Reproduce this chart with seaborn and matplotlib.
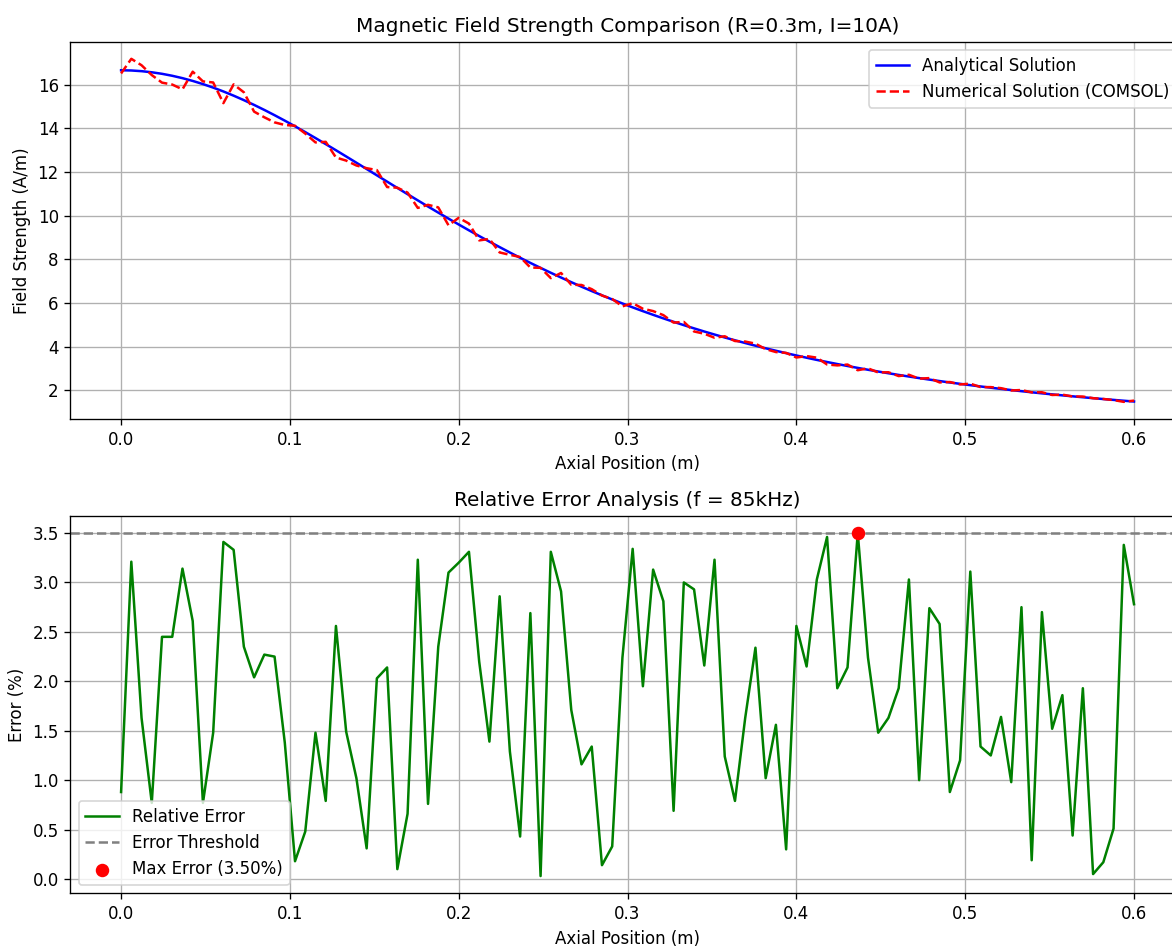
import numpy as np
import matplotlib
matplotlib.use('Agg')
import matplotlib.pyplot as plt
import seaborn as sns

# Axial positions (m), 100 samples along the axis
axial_pos = np.linspace(0, 0.6, 100)

# Analytical field strength (A/m)
analytical = [16.667, 16.657, 16.626, 16.575, 16.505, 16.415, 16.306, 16.179, 16.034, 15.873,
              15.696, 15.504, 15.298, 15.080, 14.850, 14.609, 14.359, 14.100, 13.834, 13.562,
              13.284, 13.003, 12.718, 12.431, 12.143, 11.854, 11.565, 11.276, 10.990, 10.706,
              10.424, 10.146, 9.871, 9.601, 9.334, 9.073, 8.816, 8.565, 8.318, 8.077,
              7.842, 7.613, 7.389, 7.171, 6.959, 6.752, 6.551, 6.356, 6.167, 5.983,
              5.804, 5.631, 5.463, 5.300, 5.142, 4.990, 4.842, 4.698, 4.560, 4.425,
              4.296, 4.170, 4.048, 3.930, 3.817, 3.707, 3.600, 3.497, 3.397, 3.301,
              3.208, 3.118, 3.031, 2.946, 2.865, 2.786, 2.709, 2.636, 2.564, 2.495,
              2.428, 2.363, 2.301, 2.240, 2.181, 2.124, 2.069, 2.016, 1.964, 1.914,
              1.865, 1.818, 1.773, 1.729, 1.686, 1.644, 1.604, 1.565, 1.527, 1.491]

# Relative error (%)
rel_error = [0.88, 3.21, 1.63, 0.77, 2.45, 2.45, 3.14, 2.61, 0.77, 1.48,
             3.41, 3.33, 2.35, 2.04, 2.27, 2.25, 1.38, 0.18, 0.48, 1.48,
             0.79, 2.56, 1.49, 1.02, 0.31, 2.03, 2.14, 0.10, 0.66, 3.23,
             0.76, 2.35, 3.10, 3.20, 3.31, 2.20, 1.39, 2.86, 1.29, 0.43,
             2.69, 0.03, 3.31, 2.91, 1.71, 1.16, 1.34, 0.14, 0.33, 2.24,
             3.34, 1.95, 3.13, 2.81, 0.69, 3.00, 2.93, 2.16, 3.23, 1.24,
             0.79, 1.63, 2.34, 1.02, 1.56, 0.30, 2.56, 2.15, 3.03, 3.46,
             1.93, 2.14, 3.50, 2.24, 1.48, 1.63, 1.93, 3.03, 1.00, 2.74,
             2.58, 0.88, 1.20, 3.11, 1.34, 1.25, 1.64, 0.98, 2.75, 0.19,
             2.70, 1.52, 1.86, 0.44, 1.93, 0.05, 0.17, 0.51, 3.38, 2.78]

# Side of the analytical curve the COMSOL result falls on (+1 above, -1 below)
deviation_side = [-1, 1, 1, -1, -1, -1, -1, 1, 1, 1,
                  -1, 1, 1, -1, -1, -1, -1, 1, -1, -1,
                  1, -1, -1, -1, 1, 1, -1, 1, 1, -1,
                  1, 1, -1, 1, 1, -1, 1, -1, -1, 1,
                  -1, 1, -1, 1, -1, 1, 1, -1, 1, -1,
                  1, 1, 1, 1, -1, 1, -1, -1, -1, 1,
                  -1, 1, 1, -1, -1, 1, -1, 1, 1, -1,
                  -1, 1, -1, 1, -1, 1, -1, 1, -1, 1,
                  -1, 1, -1, 1, -1, 1, 1, -1, 1, -1,
                  1, -1, 1, -1, 1, -1, 1, -1, -1, 1]

threshold = 3.5

# Numerical (COMSOL) values = analytical shifted by the relative error
numerical = np.array(analytical) * (1 + np.array(deviation_side) * np.array(rel_error) / 100)

fig, (ax1, ax2) = plt.subplots(2, 1, figsize=(1172 / 120, 947 / 120), dpi=120)
fig.subplots_adjust(left=0.0601, right=1.0108, top=0.9560, bottom=0.0568, hspace=0.2567)

# Field strength comparison
sns.lineplot(x=axial_pos, y=analytical, color='blue', linewidth=1.5, label='Analytical Solution', ax=ax1)
sns.lineplot(x=axial_pos, y=numerical, color='red', linewidth=1.5, linestyle='--',
             label='Numerical Solution (COMSOL)', ax=ax1)
ax1.set_title('Magnetic Field Strength Comparison (R=0.3m, I=10A)', fontsize=12)
ax1.set_xlabel('Axial Position (m)')
ax1.set_ylabel('Field Strength (A/m)')
ax1.legend(loc='upper right')
ax1.grid(True)

# Relative error
err = np.array(rel_error)
imax = int(np.argmax(err))
sns.lineplot(x=axial_pos, y=rel_error, color='green', linewidth=1.5, label='Relative Error', ax=ax2)
ax2.axhline(threshold, color='gray', linestyle='--', linewidth=1.5, label='Error Threshold')
ax2.scatter(axial_pos[imax], err[imax], color='red', s=50, zorder=5,
            label=f'Max Error ({err[imax]:.2f}%)')
ax2.set_title('Relative Error Analysis (f = 85kHz)', fontsize=12)
ax2.set_xlabel('Axial Position (m)')
ax2.set_ylabel('Error (%)')
ax2.legend(loc='lower left')
ax2.grid(True)

plt.savefig('out.png', dpi=120)
